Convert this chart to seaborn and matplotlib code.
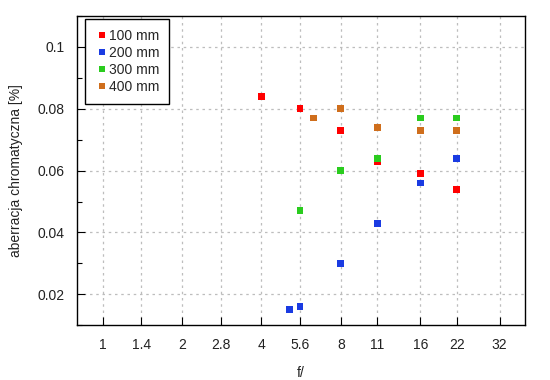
import matplotlib
matplotlib.use("Agg")
import matplotlib.pyplot as plt
from matplotlib.ticker import FixedLocator, NullFormatter, MultipleLocator
import pandas as pd
import seaborn as sns

# f-numbers and chromatic aberration [%] for each focal length
F_100 = [4, 5.6, 8, 11, 16, 22]
CA_100 = [0.084, 0.080, 0.073, 0.063, 0.059, 0.054]

F_200 = [5.1, 5.6, 8, 11, 16, 22]
CA_200 = [0.015, 0.016, 0.030, 0.043, 0.056, 0.064]

F_300 = [5.6, 8, 11, 16, 22]
CA_300 = [0.047, 0.060, 0.064, 0.077, 0.077]

F_400 = [6.3, 8, 11, 16, 22]
CA_400 = [0.077, 0.080, 0.074, 0.073, 0.073]

SERIES = ["100 mm", "200 mm", "300 mm", "400 mm"]
COLORS = ["#ff0000", "#1a3be2", "#2acc1e", "#cf6e1c"]

X_TICKS = [1, 1.4, 2, 2.8, 4, 5.6, 8, 11, 16, 22, 32]
X_TICK_LABELS = ["1", "1.4", "2", "2.8", "4", "5.6", "8", "11", "16", "22", "32"]


def main():
    rows = []
    for name, fs, cas in zip(SERIES, [F_100, F_200, F_300, F_400],
                             [CA_100, CA_200, CA_300, CA_400]):
        for f, ca in zip(fs, cas):
            rows.append({"f": f, "ca": ca, "lens": name})
    df = pd.DataFrame(rows)

    sns.set_style("white")
    plt.rcParams["font.family"] = ["Liberation Sans", "DejaVu Sans"]
    plt.rcParams["font.size"] = 10

    fig = plt.figure(figsize=(5.5, 3.8), dpi=100)
    ax = fig.add_axes([0.14, 0.144, 0.815, 0.814])

    sns.scatterplot(data=df, x="f", y="ca", hue="lens", hue_order=SERIES,
                    palette=dict(zip(SERIES, COLORS)), marker="s", s=24,
                    edgecolor="none", linewidth=0, ax=ax, zorder=3)

    ax.set_xscale("log", base=2)
    ax.set_xlim(0.8, 40)
    ax.set_ylim(0.01, 0.11)
    ax.xaxis.set_major_locator(FixedLocator(X_TICKS))
    ax.set_xticklabels(X_TICK_LABELS)
    ax.xaxis.set_minor_locator(FixedLocator([]))
    ax.xaxis.set_minor_formatter(NullFormatter())
    ax.yaxis.set_major_locator(FixedLocator([0.02, 0.04, 0.06, 0.08, 0.1]))
    ax.set_yticklabels(["0.02", "0.04", "0.06", "0.08", "0.1"])
    ax.yaxis.set_minor_locator(MultipleLocator(0.01))

    ax.tick_params(axis="both", which="both", top=False, right=False)
    ax.tick_params(axis="both", which="major", direction="in", length=6,
                   width=0.8, color="black", pad=9, labelsize=10,
                   labelcolor="#222222", bottom=True, left=True)
    ax.tick_params(axis="y", which="minor", direction="in", length=3.5,
                   width=0.8, color="black", left=True, right=False)

    ax.grid(True, which="major", color="#bdbdbd", linestyle=(0, (2, 3)),
            linewidth=0.9)
    for sp in ax.spines.values():
        sp.set_color("black")
        sp.set_linewidth(1.0)

    ax.set_xlabel("f/", fontsize=10, color="#222222", labelpad=10)
    ax.set_ylabel("aberracja chromatyczna [%]", fontsize=10,
                  color="#222222", labelpad=10)

    leg = ax.legend(loc="upper left", bbox_to_anchor=(0.018, 0.99),
                    borderaxespad=0, frameon=True, fancybox=False,
                    edgecolor="black", framealpha=1, fontsize=10,
                    handletextpad=0.0, handlelength=1.0, labelspacing=0.22,
                    borderpad=0.7, markerscale=1.0)
    leg.get_frame().set_linewidth(1.0)
    leg.set_title(None)

    fig.savefig("out.png", dpi=100)
    plt.close(fig)


if __name__ == "__main__":
    main()
